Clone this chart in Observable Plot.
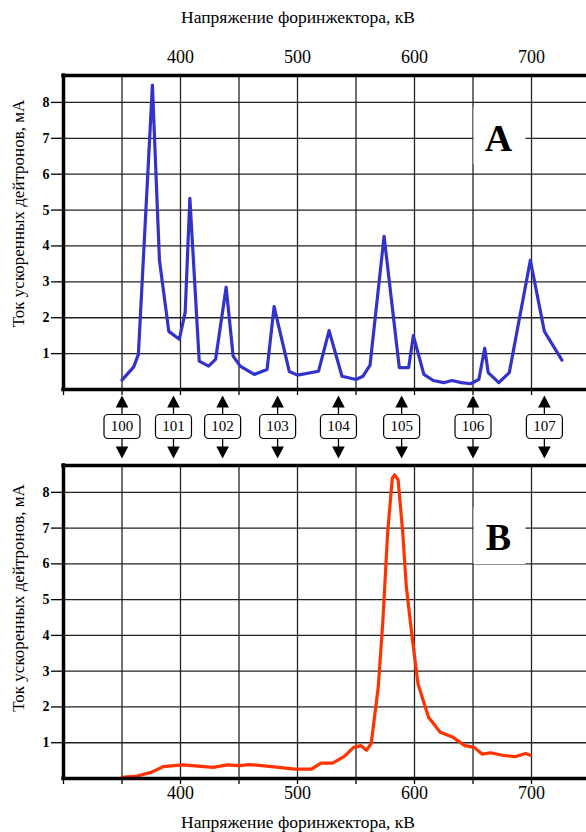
<!DOCTYPE html>
<html>
<head>
<meta charset="utf-8">
<script src="https://cdn.jsdelivr.net/npm/d3@7"></script>
<script src="https://cdn.jsdelivr.net/npm/@observablehq/plot@0.6"></script>
<style>
  html, body { margin: 0; padding: 0; background: white; overflow: hidden; }
  #chart { position: relative; width: 586px; height: 832px; overflow: hidden; }
  #chart svg { position: absolute; left: 0; }
  #chart svg, #chart svg text { font-family: 'Liberation Serif', 'Times New Roman', serif !important; }
</style>
</head>
<body>
<div id="chart"></div>
<script>
// ---- data ----
const aVoltage = [350, 360, 364, 376, 382, 390, 399, 404, 408, 416, 424, 430, 439, 445, 451, 463, 474, 480, 493, 500, 518, 527, 538, 550, 556, 562, 574, 587, 595, 599, 608, 616, 625, 632, 640, 648, 655, 660, 663, 672, 681, 699, 711, 726];
const aCurrent = [0.26, 0.63, 0.98, 8.48, 3.60, 1.62, 1.40, 2.15, 5.33, 0.79, 0.65, 0.84, 2.85, 0.93, 0.65, 0.42, 0.56, 2.31, 0.50, 0.40, 0.51, 1.64, 0.37, 0.28, 0.37, 0.68, 4.27, 0.61, 0.61, 1.50, 0.42, 0.25, 0.19, 0.25, 0.19, 0.16, 0.28, 1.15, 0.47, 0.19, 0.47, 3.60, 1.62, 0.82];

const bVoltage = [350, 363, 375, 385, 402, 428, 440, 450, 459, 478, 498, 512, 520, 530, 540, 548, 554, 559, 563, 569, 573, 577, 581, 583, 586, 590, 593, 598, 603, 612, 622, 633, 643, 651, 658, 665, 675, 686, 695, 699];
const bCurrent = [0.03, 0.07, 0.17, 0.33, 0.38, 0.31, 0.38, 0.36, 0.39, 0.33, 0.26, 0.26, 0.43, 0.43, 0.62, 0.87, 0.92, 0.79, 0.98, 2.55, 4.42, 6.85, 8.39, 8.49, 8.35, 6.85, 5.36, 3.95, 2.64, 1.71, 1.29, 1.15, 0.92, 0.87, 0.68, 0.72, 0.65, 0.61, 0.70, 0.65];

const resonanceVoltage = [350, 394, 436, 483, 535, 589, 650, 711];
const resonanceLabels = ["100", "101", "102", "103", "104", "105", "106", "107"];

const xLabelTicks = [400, 500, 600, 700];
const xMinorTicks = [300, 350, 400, 450, 500, 550, 600, 650, 700];
const xGrid = [350, 400, 450, 500, 550, 600, 650, 700];
const yTicks = [1, 2, 3, 4, 5, 6, 7, 8];

const xTitle = "Напряжение форинжектора, кВ";
const yTitle = "Ток ускоренных дейтронов, мА";
const panelNames = ["A", "B"];

// ---- build tables ----
const aData = aVoltage.map((v, i) => ({v, c: aCurrent[i]}));
const bData = bVoltage.map((v, i) => ({v, c: bCurrent[i]}));
const resonances = resonanceVoltage.map((v, i) => ({v, label: resonanceLabels[i]}));

// ---- layout constants ----
const W = 586, ML = 63, MR = 0;
const xDomain = [300, 747];
const yDomain = [0, 8.75];
const FONT = "'Liberation Serif', 'Times New Roman', serif";

// custom symbols
const rectSym = (w, h, r = 0) => ({
  draw(ctx) {
    const x0 = -w / 2, y0 = -h / 2, x1 = w / 2, y1 = h / 2;
    if (!r) { ctx.moveTo(x0, y0); ctx.lineTo(x1, y0); ctx.lineTo(x1, y1); ctx.lineTo(x0, y1); ctx.closePath(); return; }
    ctx.moveTo(x0 + r, y0);
    ctx.lineTo(x1 - r, y0); ctx.arcTo(x1, y0, x1, y0 + r, r);
    ctx.lineTo(x1, y1 - r); ctx.arcTo(x1, y1, x1 - r, y1, r);
    ctx.lineTo(x0 + r, y1); ctx.arcTo(x0, y1, x0, y1 - r, r);
    ctx.lineTo(x0, y0 + r); ctx.arcTo(x0, y0, x0 + r, y0, r);
    ctx.closePath();
  }
});
const triUp = {draw(ctx) { ctx.moveTo(0, -6); ctx.lineTo(6.3, 6); ctx.lineTo(-6.3, 6); ctx.closePath(); }};
const triDown = {draw(ctx) { ctx.moveTo(0, 6); ctx.lineTo(6.3, -6); ctx.lineTo(-6.3, -6); ctx.closePath(); }};

function panel({data, color, name, height, marginTop, marginBottom, top, yLabelDy}) {
  const marks = [
    Plot.ruleX(xGrid, {stroke: "#222", strokeWidth: 1.3}),
    Plot.ruleY(yTicks, {stroke: "#222", strokeWidth: 1.3}),
    Plot.dot([name], {frameAnchor: "top-right", dx: -87, dy: name === "A" ? 60 : 70, symbol: rectSym(52, 57), fill: "white", stroke: "none"}),
    Plot.text([name], {frameAnchor: "top-right", dx: -88, dy: name === "A" ? 63 : 72, text: d => d, fontSize: 38, fontWeight: "bold", textAnchor: "middle", lineAnchor: "middle", fontFamily: FONT}),
    Plot.line(data, {x: "v", y: "c", stroke: color, strokeWidth: 3.2, strokeLinejoin: "round"}),
    Plot.ruleY([yDomain[0], yDomain[1]], {stroke: "black", strokeWidth: 3.5, strokeLinecap: "square"}),
    Plot.ruleX([xDomain[0]], {stroke: "black", strokeWidth: 3.5, strokeLinecap: "square"}),
    Plot.axisY({ticks: yTicks, tickSize: 12, tickPadding: 2, fontSize: 14, fontWeight: "bold", label: null, fontFamily: FONT, strokeWidth: 1.3}),
    Plot.text([yTitle], {frameAnchor: "left", rotate: -90, dx: -45, dy: yLabelDy, fontSize: 17, textAnchor: "middle", lineAnchor: "middle", fontFamily: FONT})
  ];
  if (name === "A") {
    marks.push(
      Plot.axisX({anchor: "top", ticks: xLabelTicks, tickSize: 0, tickPadding: 13, fontSize: 18, label: null, fontFamily: FONT}),
      Plot.axisX({anchor: "bottom", ticks: xMinorTicks, tickSize: 6, tickFormat: () => "", label: null, strokeWidth: 1.3}),
      Plot.text([xTitle], {frameAnchor: "top", dx: -27, dy: -58, fontSize: 17.5, textAnchor: "middle", lineAnchor: "middle", fontFamily: FONT})
    );
  } else {
    marks.push(
      Plot.axisX({anchor: "bottom", ticks: xMinorTicks, tickSize: 6, tickFormat: () => "", label: null, strokeWidth: 1.3}),
      Plot.axisX({anchor: "bottom", ticks: xLabelTicks, tickSize: 0, tickPadding: 8, fontSize: 18, label: null, fontFamily: FONT}),
      Plot.text([xTitle], {frameAnchor: "bottom", dx: -27, dy: 44, fontSize: 17.5, textAnchor: "middle", lineAnchor: "middle", fontFamily: FONT})
    );
  }
  const svg = Plot.plot({
    width: W, height, marginTop, marginBottom, marginLeft: ML, marginRight: MR,
    style: {background: "transparent", fontFamily: FONT, overflow: "visible"},
    x: {domain: xDomain},
    y: {domain: yDomain},
    marks
  });
  svg.style.top = top + "px";
  return svg;
}

const chart = document.getElementById("chart");

const svgA = panel({data: aData, color: "#3333cc", name: panelNames[0], height: 400, marginTop: 75, marginBottom: 11, top: 0, yLabelDy: -19});
const svgB = panel({data: bData, color: "#ff3300", name: panelNames[1], height: 432, marginTop: 65, marginBottom: 54, top: 400, yLabelDy: -24});

// middle strip with resonance arrows and labels
const svgM = Plot.plot({
  width: W, height: 76, marginTop: 0, marginBottom: 0, marginLeft: ML, marginRight: MR,
  style: {background: "transparent", fontFamily: FONT, overflow: "visible"},
  x: {domain: xDomain, axis: null},
  marks: [
    Plot.ruleX(resonances, {x: "v", insetTop: 14, insetBottom: 14, stroke: "black", strokeWidth: 1.3}),
    Plot.dot(resonances, {x: "v", frameAnchor: "top", dy: 12, symbol: triUp, fill: "black", stroke: "none"}),
    Plot.dot(resonances, {x: "v", frameAnchor: "bottom", dy: -13, symbol: triDown, fill: "black", stroke: "none"}),
    Plot.dot(resonances, {x: "v", frameAnchor: "top", dy: 37, symbol: rectSym(36, 24, 4), fill: "white", stroke: "black", strokeWidth: 1.2}),
    Plot.text(resonances, {x: "v", frameAnchor: "top", dy: 37, text: "label", fontSize: 15, textAnchor: "middle", lineAnchor: "middle", fontFamily: FONT})
  ]
});
svgM.style.top = "389px";

chart.appendChild(svgA);
chart.appendChild(svgB);
chart.appendChild(svgM);
</script>
</body>
</html>
